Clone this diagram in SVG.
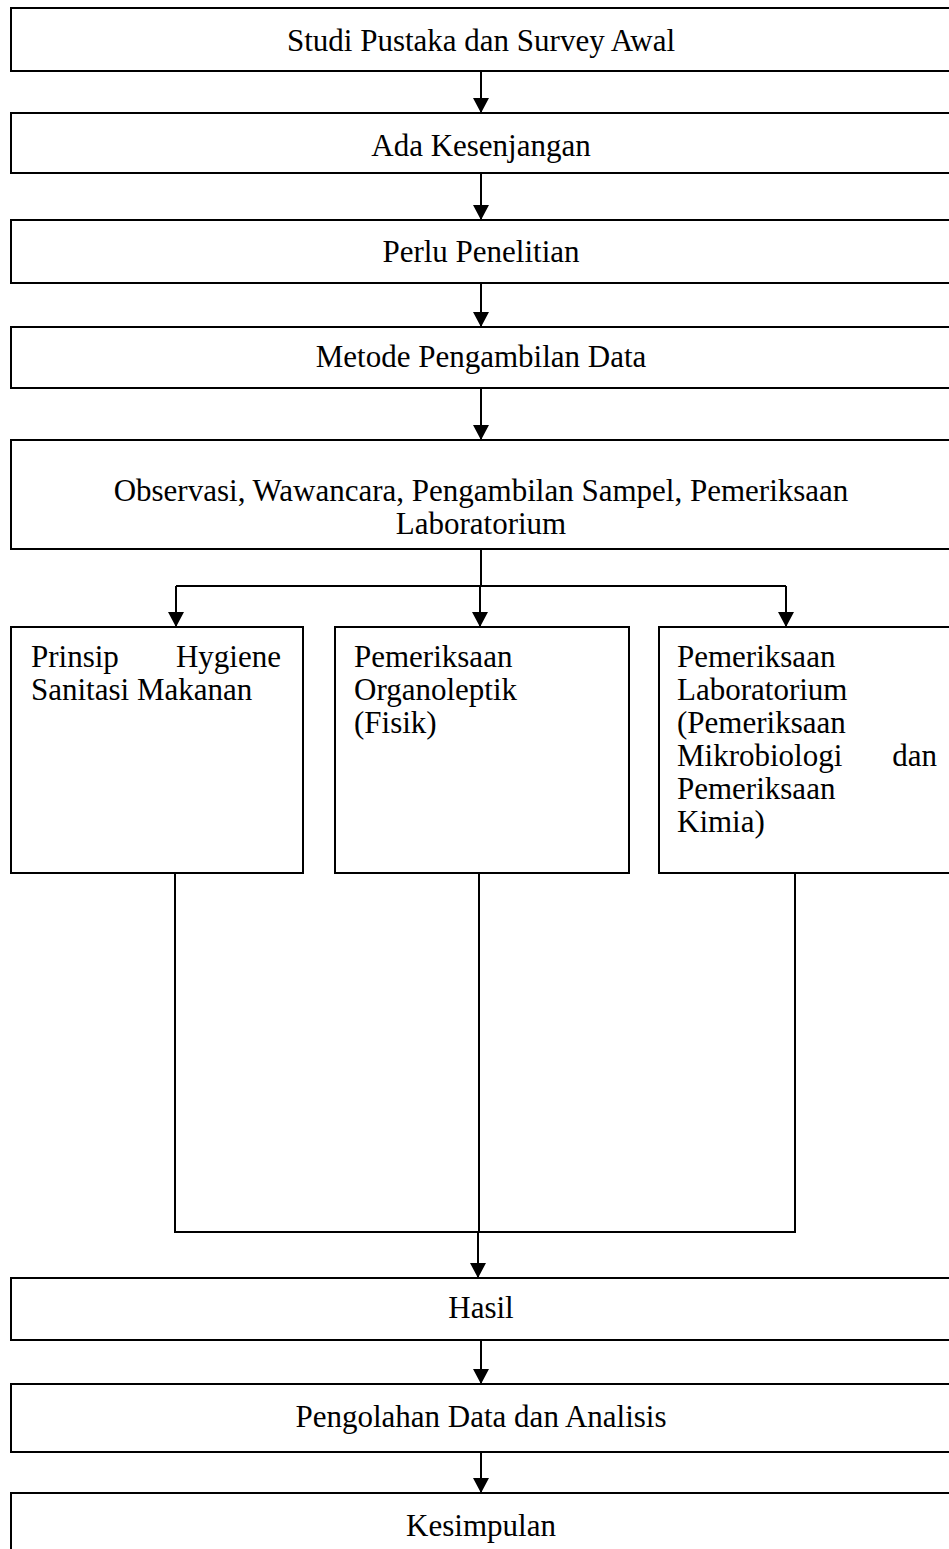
<svg xmlns="http://www.w3.org/2000/svg" width="949" height="1549" viewBox="0 0 949 1549">
<defs>
<marker id="ah" markerWidth="16" markerHeight="16" refX="15" refY="8" orient="auto" markerUnits="userSpaceOnUse">
<path d="M0,0 L15,8 L0,16 Z" fill="#000"/>
</marker>
<style>
.box{fill:#fff;stroke:#000;stroke-width:2}
.t{font-family:"Liberation Serif","Times New Roman",serif;font-size:31px;fill:#000}
.c{text-anchor:middle}
.ln{fill:none;stroke:#000;stroke-width:2}
</style>
</defs>
<rect width="949" height="1549" fill="#fff"/>
<g id="n1"><rect class="box" x="11" y="8" width="950" height="63"/><text class="t c" x="481" y="51">Studi Pustaka dan Survey Awal</text></g>
<g id="n2"><rect class="box" x="11" y="113" width="950" height="60"/><text class="t c" x="481" y="156">Ada Kesenjangan</text></g>
<g id="n3"><rect class="box" x="11" y="220" width="950" height="63"/><text class="t c" x="481" y="262">Perlu Penelitian</text></g>
<g id="n4"><rect class="box" x="11" y="327" width="950" height="61"/><text class="t c" x="481" y="367">Metode Pengambilan Data</text></g>
<g id="n5"><rect class="box" x="11" y="440" width="950" height="109"/><text class="t c" x="481" y="501">Observasi, Wawancara, Pengambilan Sampel, Pemeriksaan</text><text class="t c" x="481" y="534">Laboratorium</text></g>
<g id="n6"><rect class="box" x="11" y="627" width="292" height="246"/><text class="t" x="31" y="667">Prinsip</text><text class="t" x="281" y="667" text-anchor="end">Hygiene</text><text class="t" x="31" y="700">Sanitasi Makanan</text></g>
<g id="n7"><rect class="box" x="335" y="627" width="294" height="246"/><text class="t" x="354" y="667">Pemeriksaan</text><text class="t" x="354" y="700">Organoleptik</text><text class="t" x="354" y="733">(Fisik)</text></g>
<g id="n8"><rect class="box" x="659" y="627" width="300" height="246"/><text class="t" x="677" y="667">Pemeriksaan</text><text class="t" x="677" y="700">Laboratorium</text><text class="t" x="677" y="733">(Pemeriksaan</text><text class="t" x="677" y="766">Mikrobiologi</text><text class="t" x="937" y="766" text-anchor="end">dan</text><text class="t" x="677" y="799">Pemeriksaan</text><text class="t" x="677" y="832">Kimia)</text></g>
<g id="n9"><rect class="box" x="11" y="1278" width="950" height="62"/><text class="t c" x="481" y="1318">Hasil</text></g>
<g id="n10"><rect class="box" x="11" y="1384" width="950" height="68"/><text class="t c" x="481" y="1427">Pengolahan Data dan Analisis</text></g>
<g id="n11"><rect class="box" x="11" y="1493" width="950" height="70"/><text class="t c" x="481" y="1536">Kesimpulan</text></g>
<g id="connectors">
<line class="ln" x1="481" y1="71" x2="481" y2="113" marker-end="url(#ah)"/>
<line class="ln" x1="481" y1="173" x2="481" y2="220" marker-end="url(#ah)"/>
<line class="ln" x1="481" y1="283" x2="481" y2="327" marker-end="url(#ah)"/>
<line class="ln" x1="481" y1="388" x2="481" y2="440" marker-end="url(#ah)"/>
<line class="ln" x1="481" y1="549" x2="481" y2="586"/>
<line class="ln" x1="176" y1="586" x2="786" y2="586"/>
<line class="ln" x1="176" y1="586" x2="176" y2="627" marker-end="url(#ah)"/>
<line class="ln" x1="480" y1="586" x2="480" y2="627" marker-end="url(#ah)"/>
<line class="ln" x1="786" y1="586" x2="786" y2="627" marker-end="url(#ah)"/>
<polyline class="ln" points="175,873 175,1232 795,1232 795,873"/>
<line class="ln" x1="479" y1="873" x2="479" y2="1232"/>
<line class="ln" x1="478" y1="1232" x2="478" y2="1278" marker-end="url(#ah)"/>
<line class="ln" x1="481" y1="1340" x2="481" y2="1384" marker-end="url(#ah)"/>
<line class="ln" x1="481" y1="1452" x2="481" y2="1493" marker-end="url(#ah)"/>
</g>
</svg>
